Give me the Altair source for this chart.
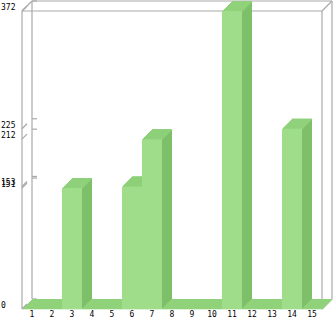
import altair as alt
import pandas as pd

# ---- data ----
categories = [str(i) for i in range(1, 16)]
values = [0, 0, 151, 0, 0, 153, 212, 0, 0, 0, 372, 0, 0, 225, 0]
y_ticks = [0, 151, 153, 212, 225, 372]

df = pd.DataFrame({"cat": categories, "value": values})
df["zero"] = 0
ticks_df = pd.DataFrame({"tick": y_ticks})
one = pd.DataFrame({"a": [0]})

# ---- style ----
W, H, D = 300, 298, 10
FRONT = "#a0dd8a"
TOP = "#8fd27b"
SIDE = "#7ec06a"
LINE = "#a9a9a9"
FONT = "DejaVu Sans Mono"

xscale = alt.Scale(domain=categories, paddingInner=0, paddingOuter=0)
yscale = alt.Scale(domain=[0, 372], nice=False, zero=True)

X_NOAXIS = alt.X("cat:N", scale=xscale, axis=None)

layers = []

# frame lines (back wall, front frame, depth diagonals)
frame = [
    (D, W + D, -D, -D),        # back top
    (D, D, -D, H - D),         # back left
    (W + D, W + D, -D, H - D), # back right
    (0, 0, 0, H),              # front left
    (0, W, 0, 0),              # front top
    (W, W, 0, H),              # front right
    (0, D, 0, -D),             # diag top-left
    (W, W + D, 0, -D),         # diag top-right
    (W, W + D, H, H - D),      # diag bottom-right
]
for x1, x2, y1, y2 in frame:
    layers.append(
        alt.Chart(one).mark_rule(color=LINE, strokeWidth=1.2).encode(
            x=alt.value(x1), x2=alt.value(x2), y=alt.value(y1), y2=alt.value(y2)
        )
    )

# back-wall ticks
layers.append(
    alt.Chart(ticks_df).mark_rule(color=LINE, strokeWidth=1.2, yOffset=-D, y2Offset=-D).encode(
        x=alt.value(D), x2=alt.value(D + 5),
        y=alt.Y("tick:Q", scale=yscale, axis=None), y2="tick:Q",
    )
)
# front diagonal ticks
layers.append(
    alt.Chart(ticks_df).mark_rule(color=LINE, strokeWidth=1.2, y2Offset=-5).encode(
        x=alt.value(0), x2=alt.value(5),
        y=alt.Y("tick:Q", scale=yscale, axis=None), y2="tick:Q",
    )
)

# floor (top face of a zero-height slab)
for k in range(1, D + 1):
    layers.append(
        alt.Chart(df).mark_rect(color=TOP, xOffset=k, yOffset=-k, y2Offset=-k + 1.3).encode(
            x=X_NOAXIS, y=alt.Y("zero:Q", scale=yscale, axis=None), y2="zero:Q"
        )
    )

bars = alt.Chart(df).transform_filter("datum.value > 0")

# side extrusion
for k in range(D, 0, -1):
    layers.append(
        bars.mark_rect(color=SIDE, xOffset=k, yOffset=-k, y2Offset=-k).encode(
            x=X_NOAXIS, y=alt.Y("value:Q", scale=yscale, axis=None), y2="zero:Q"
        )
    )
# top faces
for k in range(1, D + 1):
    layers.append(
        bars.mark_rect(color=TOP, xOffset=k, yOffset=-k, y2Offset=-k + 1.3).encode(
            x=X_NOAXIS, y=alt.Y("value:Q", scale=yscale, axis=None), y2="value:Q"
        )
    )
# front faces
layers.append(
    bars.mark_rect(color=FRONT).encode(
        x=X_NOAXIS, y=alt.Y("value:Q", scale=yscale, axis=None), y2="zero:Q"
    )
)

# category labels (x axis)
layers.append(
    alt.Chart(df).mark_text(font=FONT, fontSize=8, color="#000", baseline="middle", align="center").encode(
        x=X_NOAXIS, y=alt.value(H + 6), text="cat:N"
    )
)
# value labels (y axis)
layers.append(
    alt.Chart(ticks_df).mark_text(font=FONT, fontSize=8, color="#000", baseline="middle",
                                  align="left", dy=-3).encode(
        x=alt.value(-21), y=alt.Y("tick:Q", scale=yscale, axis=None), text="tick:Q"
    )
)

chart = alt.layer(*layers).properties(
    width=W, height=H,
    padding={"left": 22, "top": 11, "right": 11, "bottom": 12},
    autosize="none",
).configure_view(stroke=None)

chart.save("out.html", embed_options={"renderer": "svg", "actions": False})
